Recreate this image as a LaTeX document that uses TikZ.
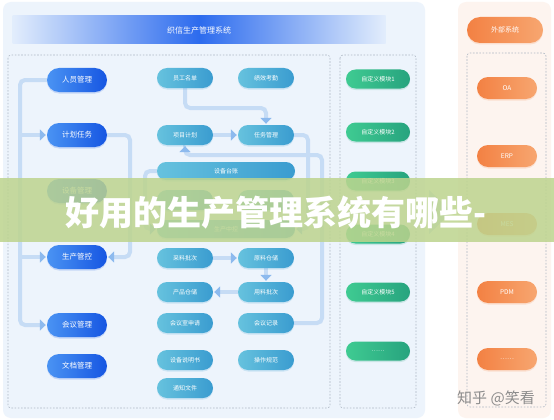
\documentclass[tikz,border=0pt]{standalone}
\usepackage{fontspec}
\newfontfamily\cjk{Noto Sans CJK SC}
\usetikzlibrary{arrows.meta,shadows}
\pgfdeclarelayer{bg}
\pgfsetlayers{bg,main}
\definecolor{bgL}{HTML}{EDF4FC}
\definecolor{bgR}{HTML}{FDF4EF}
\definecolor{lnk}{HTML}{C6DCF5}
\definecolor{tipc}{HTML}{8DBAEE}
\definecolor{dsh}{HTML}{AEB8C4}
\definecolor{LA}{HTML}{4A93F3}
\definecolor{LB}{HTML}{1656E2}
\definecolor{MA}{HTML}{66C2DE}
\definecolor{MB}{HTML}{3A9CD0}
\definecolor{GA}{HTML}{3FCB92}
\definecolor{GB}{HTML}{27A37E}
\definecolor{OA}{HTML}{F38143}
\definecolor{OB}{HTML}{F7A670}
\definecolor{TA}{HTML}{E2EDFC}
\definecolor{TB}{HTML}{2C6BEE}
\definecolor{ovl}{HTML}{BDD48E}
\begin{document}
\begin{tikzpicture}[x=1pt,y=-1pt,font=\cjk,
  pill/.style={rounded corners=#1, inner sep=0pt, text=white},
  soft/.style={drop shadow={opacity=0.18, fill=#1, shadow xshift=0pt, shadow yshift=-1.5pt}},
  lpill/.style={pill=12pt, minimum width=60pt, minimum height=24pt, left color=LA, right color=LB, soft=LB, font=\cjk\fontsize{7.5}{9}\selectfont},
  mpill/.style={pill=10pt, minimum width=56pt, minimum height=20pt, left color=MA, right color=MB, soft=MB, font=\cjk\fontsize{6}{7}\selectfont},
  wpill/.style={pill=9pt, minimum width=138pt, minimum height=18pt, left color=MA, right color=MB, soft=MB, font=\cjk\fontsize{6}{7}\selectfont},
  gpill/.style={pill=9.5pt, minimum width=64pt, minimum height=19pt, left color=GA, right color=GB, soft=GB, font=\cjk\fontsize{6}{7}\selectfont},
  opill/.style={pill=11pt, minimum width=60pt, minimum height=22pt, left color=OA, right color=OB, soft=OA, font=\cjk\fontsize{6.5}{8}\selectfont},
  conn/.style={draw=lnk, line width=4pt, rounded corners=5pt},
  arr/.style={conn, -{Triangle[width=11pt,length=6pt,color=tipc]}, shorten >=1pt},
  dbox/.style={draw=dsh, line width=0.6pt, dash pattern=on 1.6pt off 1.6pt, rounded corners=3pt}
]
\useasboundingbox (0,0) rectangle (554,420);
\begin{pgfonlayer}{bg}
\fill[white] (0,0) rectangle (554,420);
\fill[bgL, rounded corners=8pt] (3,2) rectangle (425,418);
\fill[bgR, rounded corners=8pt] (458,2) rectangle (551,418);
\draw[dbox] (8,55) rectangle (330,408);
\draw[dbox] (340,55) rectangle (416,408);
\draw[dbox] (467,53) rectangle (546,407);
\end{pgfonlayer}
% title banner
\node[minimum width=373pt, minimum height=28pt, inner sep=0pt, left color=TA, right color=TA, middle color=TB, text=white, font=\cjk\fontsize{8}{9}\selectfont] (title) at (199,30) {织信生产管理系统};
\node[opill, minimum width=76pt, minimum height=26pt, rounded corners=13pt, font=\cjk\fontsize{7}{8}\selectfont] (ext) at (505,30) {外部系统};
% left column
\node[lpill] (ry) at (77,80) {人员管理};
\node[lpill] (jh) at (77,135) {计划任务};
\node[lpill] (sb) at (77,191) {设备管理};
\node[lpill] (sc) at (77,257) {生产管控};
\node[lpill] (hy) at (77,325) {会议管理};
\node[lpill] (wd) at (77,366) {文档管理};
% middle columns
\node[mpill] (yg) at (185,78) {员工名单};
\node[mpill] (jx) at (266,78) {绩效考勤};
\node[mpill] (xm) at (185,135) {项目计划};
\node[mpill] (rw) at (266,135) {任务管理};
\node[wpill] (tz) at (226,171) {设备台账};
\node[mpill] (h1) at (185,200) {};
\node[mpill] (h2) at (266,200) {};
\node[wpill] (zk) at (226,229) {生产中控};
\node[mpill] (cl) at (185,258) {采料批次};
\node[mpill] (yl) at (266,258) {原料仓储};
\node[mpill] (cp) at (185,292) {产品仓储};
\node[mpill] (yo) at (266,292) {用料批次};
\node[mpill] (hs) at (185,323) {会议室申请};
\node[mpill] (hj) at (266,323) {会议记录};
\node[mpill] (sm) at (185,360) {设备说明书};
\node[mpill] (cz) at (266,360) {操作规范};
\node[mpill] (tw) at (185,388) {通知文件};
% custom modules
\node[gpill] (m1) at (378,79) {自定义模块1};
\node[gpill] (m2) at (378,132) {自定义模块2};
\node[gpill] (m3) at (378,181) {自定义模块3};
\node[gpill] (m4) at (378,234) {自定义模块4};
\node[gpill] (m5) at (378,292) {自定义模块5};
\node[gpill] (m6) at (378,351) {……};
% external systems
\node[opill] (oa) at (507,88) {OA};
\node[opill] (erp) at (507,156) {ERP};
\node[opill] (mes) at (507,224) {MES};
\node[opill] (pdm) at (507,292) {PDM};
\node[opill] (od) at (507,359) {……};
% bend coordinates
\coordinate (a1) at (20,80);
\coordinate (a2) at (20,325);
\coordinate (a3) at (20,135);
\coordinate (a4) at (20,257);
\coordinate (b1) at (130,135);
\coordinate (b2) at (130,257);
\coordinate (c1) at (185,108);
\coordinate (c2) at (266,108);
\coordinate (d1) at (308,135);
\coordinate (d2) at (308,229);
\coordinate (e1) at (322,323);
\coordinate (e2) at (322,155);
\coordinate (e3) at (185,155);
\coordinate (f1) at (145,171);
\coordinate (f2) at (145,229);
\coordinate (g1) at (429,190);
\coordinate (g2) at (452,212);
\coordinate (g3) at (429,234);
% connectors behind the pills
\begin{pgfonlayer}{bg}
\draw[arr] (ry.west) -- (a1) -- (a2) -- (hy.west);
\draw[arr] (a3) -- (jh.west);
\draw[arr] (a4) -- (sc.west);
\draw[arr] (jh.east) -- (b1) -- (b2) -- (sc.east);
\draw[arr] (yg.south) -- (c1) -- (c2) -- (rw.north);
\draw[arr] (xm.east) -- (rw.west);
\draw[arr] (rw.east) -- (d1) -- (d2) -- (zk.east);
\draw[arr] (hj.east) -- (e1) -- (e2) -- (e3) -- (xm.south);
\draw[arr] (tz.west) -- (f1) -- (f2) -- (zk.west);
\draw[arr] (cl.east) -- (yl.west);
\draw[arr] (yl.south) -- (yo.north);
\draw[arr] (yo.west) -- (cp.east);
\fill[lnk] (g1) -- (g2) -- (g3) -- cycle;
\end{pgfonlayer}
% overlay band
\fill[ovl, opacity=0.85] (0,178) rectangle (554,242);
\node[text=white, font=\cjk\bfseries\fontsize{34}{34}\selectfont] (bt) at (276,213) {好用的生产管理系统有哪些-};
% watermark
\node[text=black!45, font=\cjk\fontsize{15}{15}\selectfont] (wm) at (496,398) {知乎 @笑看};
\end{tikzpicture}
\end{document}
